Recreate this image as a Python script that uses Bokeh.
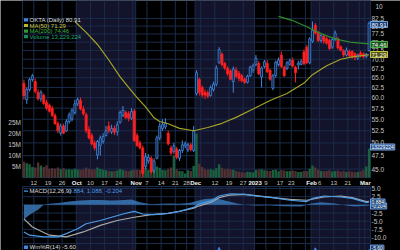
import math
from bokeh.plotting import figure
from bokeh.models import Range1d, LinearScale
from bokeh.core.properties import value
from bokeh.embed import file_html
from bokeh.resources import INLINE

# ---------------- data (OKTA daily, 2022-09-06 .. 2023-03-02) ----------------
opens = [63.5, 59.5, 62.0, 64.5, 64.0, 61.3, 59.7, 60.5, 58.8, 58.2, 57.5, 55.8, 54.0, 52.0, 53.5, 52.5, 54.5, 55.0, 56.5,
         58.5, 59.3, 57.3, 56.0, 52.8, 51.5, 50.0, 47.6, 49.5, 50.3, 51.5, 53.5, 52.3, 53.0, 52.3, 54.3, 55.8, 56.5, 56.3, 55.2, 56.8,
         51.5, 50.0, 49.0, 45.5, 46.5, 47.0, 44.8, 47.0, 51.0, 53.0, 53.3, 52.0, 49.0, 48.3, 48.8, 47.0, 48.5, 49.4, 48.6, 49.6, 48.5,
         61.0, 64.5, 62.5, 61.3, 61.2, 60.5, 62.0, 63.3, 69.0, 71.5, 68.8, 67.5, 66.8, 64.0, 67.0, 66.2, 65.5, 64.6, 63.8, 65.5, 67.0,
         68.5, 68.8, 65.2, 68.0, 68.8, 67.0, 62.3, 65.6, 68.5, 71.2, 67.8, 67.5, 68.6, 69.7, 67.8, 68.4, 68.6, 72.1, 73.5, 69.0,
         75.3, 80.2, 78.0, 75.5, 76.8, 76.0, 75.5, 73.5, 75.8, 76.0, 73.6, 72.4, 71.2, 72.2, 72.2, 71.6, 70.3, 71.8, 71.5, 70.8, 72.5]
highs = [64.5, 62.5, 65.0, 66.0, 64.8, 62.0, 61.8, 61.0, 59.5, 58.6, 58.0, 56.3, 54.5, 54.0, 54.0, 55.0, 56.5, 57.5, 59.5,
         60.0, 60.0, 58.0, 56.5, 53.5, 52.0, 50.5, 50.6, 51.5, 52.0, 53.5, 54.5, 53.8, 53.6, 54.5, 57.0, 58.0, 57.0, 56.8, 57.5, 57.3,
         52.0, 50.5, 49.5, 48.0, 47.8, 47.4, 47.0, 51.5, 54.3, 55.0, 55.2, 52.5, 49.5, 50.0, 49.2, 48.8, 50.5, 50.3, 50.0, 50.0, 53.5,
         67.0, 65.0, 63.0, 62.0, 61.8, 63.0, 64.0, 68.3, 73.5, 72.0, 69.3, 68.0, 67.2, 68.0, 67.8, 66.8, 66.0, 65.0, 65.8, 68.2, 68.8,
         71.2, 69.5, 68.0, 69.8, 69.8, 67.3, 66.0, 69.6, 70.5, 72.2, 68.2, 69.5, 70.2, 70.5, 68.2, 69.6, 70.0, 72.8, 74.2, 76.5,
         81.5, 81.0, 78.5, 77.5, 77.5, 76.6, 76.0, 76.4, 78.6, 76.5, 74.0, 72.9, 73.4, 72.8, 72.6, 72.0, 71.6, 72.4, 72.0, 71.8, 81.5]
lows = [59.5, 58.5, 61.5, 64.0, 61.0, 59.3, 59.0, 58.3, 57.0, 56.5, 55.5, 53.8, 52.0, 51.5, 51.8, 52.2, 54.0, 54.5, 56.0,
        58.0, 57.0, 55.8, 52.0, 50.7, 49.5, 48.5, 46.8, 47.5, 49.8, 51.3, 52.0, 51.8, 51.6, 51.5, 54.0, 55.5, 55.0, 54.5, 54.8, 50.2,
        49.2, 48.7, 43.6, 45.0, 46.0, 44.2, 44.3, 46.8, 50.5, 52.5, 52.8, 49.5, 47.6, 47.8, 46.8, 46.5, 48.0, 48.9, 48.2, 48.3, 48.2,
        60.5, 60.5, 60.0, 59.6, 59.8, 60.2, 61.5, 62.8, 68.8, 68.0, 67.0, 65.5, 64.3, 61.2, 64.8, 64.0, 63.8, 63.4, 63.5, 65.2, 66.3,
        68.0, 65.7, 62.5, 67.5, 66.2, 64.2, 61.8, 65.0, 68.0, 67.6, 65.2, 67.0, 68.2, 67.7, 63.8, 67.2, 68.3, 68.3, 68.6, 68.6,
        74.8, 77.3, 75.0, 74.8, 74.5, 74.2, 72.6, 73.0, 75.3, 72.8, 72.2, 70.6, 70.8, 70.5, 70.2, 69.7, 69.8, 70.5, 70.2, 70.3, 72.2]
closes = [60.5, 62.0, 64.5, 65.5, 61.5, 59.7, 61.3, 58.6, 57.5, 56.8, 55.8, 54.0, 52.5, 53.5, 52.0, 54.5, 56.0, 57.0, 58.5,
          59.5, 57.3, 56.2, 52.5, 51.0, 49.8, 49.0, 50.3, 51.0, 51.3, 52.5, 52.5, 53.0, 52.2, 53.8, 56.5, 57.0, 55.4, 55.2, 56.7, 50.5,
          49.5, 49.0, 44.2, 47.3, 47.2, 44.5, 46.5, 51.0, 53.5, 53.8, 54.2, 49.8, 48.0, 49.4, 47.2, 48.5, 49.6, 49.8, 49.6, 48.7, 52.5,
          66.3, 61.3, 60.6, 60.6, 60.3, 62.5, 63.3, 67.6, 72.8, 68.5, 67.6, 66.0, 64.6, 67.3, 65.4, 64.8, 64.2, 63.8, 65.4, 67.8, 68.2,
          70.3, 66.0, 67.6, 69.3, 66.6, 64.6, 65.5, 69.2, 69.8, 68.0, 65.5, 69.0, 69.6, 68.1, 66.3, 68.9, 69.4, 68.8, 69.0, 76.0,
          78.6, 77.8, 75.5, 77.0, 75.3, 74.7, 73.1, 75.8, 77.8, 73.3, 72.6, 71.2, 72.6, 71.0, 70.6, 70.6, 71.2, 71.0, 70.8, 71.4, 80.91]
volume_m = [7.2, 6.5, 6.0, 4.8, 4.5, 6.8, 5.5, 4.8, 5.6, 4.0, 4.2, 4.0, 4.5, 3.8, 4.2, 3.6, 3.8, 3.5, 4.0,
            3.6, 3.5, 3.6, 4.6, 4.0, 3.5, 3.8, 4.5, 3.9, 3.5, 3.3, 3.0, 2.8, 3.0, 3.2, 3.9, 3.4, 3.2, 3.0, 3.3, 3.6,
            3.5, 3.4, 5.5, 4.2, 3.4, 4.6, 3.6, 5.0, 4.4, 3.4, 3.3, 3.9, 4.5, 10.0, 3.8, 3.0, 2.8, 1.8, 3.3, 3.0, 5.2,
            20.0, 6.2, 4.8, 3.8, 3.5, 3.8, 3.4, 4.2, 6.0, 4.4, 3.6, 4.0, 3.6, 3.5, 3.0, 2.6, 2.4, 2.2, 2.6, 2.5, 2.3,
            3.4, 3.6, 3.8, 3.3, 3.2, 3.0, 3.4, 3.6, 2.8, 3.4, 3.2, 2.8, 3.0, 3.2, 2.9, 2.5, 2.6, 2.9, 3.0, 4.0,
            5.4, 4.5, 3.6, 3.0, 2.8, 3.0, 3.3, 2.7, 3.0, 3.2, 2.6, 2.9, 2.5, 2.8, 2.6, 2.4, 2.5, 2.8, 3.5, 5.0, 13.23]

# moving averages (bar index, value)
ma50_k = [18, 22, 26, 30, 34, 37, 40, 43, 46, 48, 51, 55, 60, 65, 70, 75, 81, 87, 93, 99, 102, 107, 112, 116, 122]
ma50_v = [81.5, 78.0, 74.3, 69.8, 65.2, 62.5, 60.0, 57.8, 55.3, 54.5, 54.0, 53.0, 52.5, 53.2, 54.1, 55.4, 57.3, 59.3,
          61.0, 63.6, 65.8, 68.2, 70.0, 70.7, 71.29]
ma200_k = [90, 95, 100, 104, 108, 112, 116, 122]
ma200_v = [83.2, 81.8, 79.8, 78.0, 76.6, 75.6, 74.9, 74.46]

# MACD(12,26,9)
macd_k = [0, 2, 7, 12, 15, 19, 22, 27, 31, 35, 39, 42, 46, 51, 55, 60, 62, 66, 69, 73, 78, 82, 88, 94, 100, 102, 106, 112, 116, 121, 122]
macd_v = [-8.3, -9.3, -9.8, -9.8, -8.8, -7.3, -5.8, -4.8, -3.8, -2.8, -2.0, -2.8, -3.0, -2.6, -2.0, -0.8, 0.3, 1.2, 2.7,
          3.4, 3.2, 2.7, 2.2, 1.4, 1.0, 2.0, 2.7, 2.4, 2.0, 0.7, 0.884]
sig_k = [0, 3, 9, 15, 21, 27, 33, 39, 45, 51, 56, 60, 62, 66, 69, 73, 78, 82, 88, 94, 100, 106, 112, 116, 121, 122]
sig_v = [-4.3, -6.8, -9.3, -9.8, -8.3, -6.3, -4.8, -3.8, -3.0, -2.6, -1.8, -1.0, -0.3, 0.7, 2.2, 3.0, 3.2, 2.8, 2.2, 1.7,
         1.4, 2.4, 2.7, 2.2, 1.0, 1.088]
hist_k = [0, 2, 5, 7, 9, 13, 16, 20, 24, 27, 31, 34, 38, 41, 45, 48, 52, 55, 59, 61, 64, 68, 71, 75, 78, 82, 87, 92, 98,
          101, 105, 110, 114, 117, 122]
hist_v = [-4.5, -3.0, -1.5, 0.0, 0.3, 0.6, 1.0, 1.3, 1.5, 1.5, 1.3, 1.4, 1.6, 0.8, 0.2, 0.3, 0.4, 0.3, 0.6, 1.2, 1.8, 2.0,
          1.3, 0.5, 0.0, -0.2, -0.1, -0.4, -0.5, 0.3, 0.8, 0.4, -0.2, -0.5, -0.204]

# Williams %R(14) (only its tops show)
wr_k = [0, 66, 68, 69, 71, 100, 102, 103, 105, 119, 121, 122]
wr_v = [-50, -40, -15, -2, -30, -40, -15, -3, -30, -60, -40, -5.6]

# calendar ticks (first trading day of week / month)
tick_idx = [4, 9, 14, 19, 24, 29, 34, 39, 40, 44, 49, 54, 58, 61, 63, 68, 73, 78, 82, 86, 91, 95, 100, 102, 105, 110, 115, 119, 121]
tick_lbl = ["12", "19", "26", "Oct", "10", "17", "24", "", "Nov", "7", "14", "21", "28", "Dec", "", "12", "19", "27",
            "2023", "9", "17", "23", "", "Feb", "6", "13", "21", "", "Mar"]
bold_lbl = {"Oct", "Nov", "Dec", "2023", "Feb", "Mar"}
band_start = [19, 61, 102]
band_end = [40, 82, 123]

price_ticks = [45.0, 47.5, 50.0, 52.5, 55.0, 57.5, 60.0, 62.5, 65.0, 67.5, 70.0, 72.5, 75.0, 77.5, 80.0, 82.5]
vol_ticks = [5, 10, 15, 20, 25]
macd_ticks = [5.0, 2.5, 0.0, -2.5, -5.0, -7.5, -10.0]

# ---------------- layout (pixel geometry of the panels) ----------------
N = len(closes)
W, H = 400, 250
FL, FRX = 22, 370          # plot area left / right edge
P_TOP, P_BOT = 0, 177      # price panel
M_TOP, M_BOT = 186, 243    # MACD panel
R_TOP, R_BOT = 243, 250    # Williams %R panel

BAND = "#13132b"
GRID = "#1a2c4a"
BLUE = "#4287dc"
BLUEFILL = "#0f1e3c"
RED = "#ff2020"
FONT = "Liberation Sans"
TXT = "#c4c4c4"

PMAX, PPX = 88.68, 248.5   # price at top edge, px per ln-unit

def xk(px):
    return -0.5 + (px - FL) * N / (FRX - FL)

def yp(py):
    return PMAX * math.exp(-py / PPX)

def yv(py):
    return (P_BOT - py) * 5.0 / 11.0

def ym(py):
    return 5.0 - (py - 188) / 3.267

def yw(py):
    return -4.0 - (py - 248) * 2.0

p = figure(frame_width=W, frame_height=H, x_range=Range1d(xk(0), xk(W)), y_range=Range1d(yp(H), yp(0)),
           y_axis_type="log", x_axis_location=None, y_axis_location=None, output_backend="svg",
           toolbar_location=None, min_border=0, background_fill_color="black", border_fill_color="black",
           outline_line_color=None)
p.grid.visible = False
p.extra_y_ranges = {"vol": Range1d(yv(H), yv(0)), "macd": Range1d(ym(H), ym(0)), "wr": Range1d(yw(H), yw(0))}
p.extra_y_scales = {"vol": LinearScale(), "macd": LinearScale(), "wr": LinearScale()}

panels = [("default", yp, P_TOP, P_BOT), ("macd", ym, M_TOP, M_BOT), ("wr", yw, R_TOP, R_BOT)]
x_lo, x_hi = -0.5, N - 0.5
for rn, f, t, b in panels:
    for s, e in zip(band_start, band_end):
        p.quad(left=s - 0.5, right=e - 0.5, bottom=f(b), top=f(t), fill_color=BAND, line_color=None,
               y_range_name=rn, level="image")
    p.segment(x0=[k - 0.5 for k in tick_idx], x1=[k - 0.5 for k in tick_idx], y0=f(b), y1=f(t),
              line_color=GRID, line_width=1, y_range_name=rn, level="underlay")

# horizontal grids
p.segment(x0=x_lo, x1=x_hi, y0=price_ticks, y1=price_ticks, line_color=GRID, level="underlay")
p.segment(x0=x_lo, x1=x_hi, y0=macd_ticks, y1=macd_ticks, line_color=GRID, level="underlay", y_range_name="macd")
for rn, f, t, b in panels:
    p.quad(left=x_lo, right=x_hi, bottom=f(b), top=f(t), fill_color=None, line_color=GRID,
           y_range_name=rn, level="underlay")

def texts(xs, ys, tx, color, size="6.5px", align="left", rn="default", bold=False):
    p.text(x=xs, y=ys, text=tx, y_range_name=rn, text_font=value(FONT), text_font_size=value(size),
           text_color=color, text_align=align, text_baseline="middle",
           text_font_style="bold" if bold else "normal")

# ---------------- price + volume ----------------
up = [c >= o for o, c in zip(opens, closes)]
xs = list(range(N))
p.vbar(x=xs, width=0.85, top=volume_m, bottom=0, y_range_name="vol",
       fill_color=["#1c6a43" if u else "#5a3434" for u in up], line_color=None, fill_alpha=0.9)
p.segment(x0=xs, y0=highs, x1=xs, y1=lows, line_color=[BLUE if u else RED for u in up], line_width=1)
p.vbar(x=xs, width=0.72, top=[max(o, c) for o, c in zip(opens, closes)],
       bottom=[min(o, c) for o, c in zip(opens, closes)],
       fill_color=[BLUEFILL if u else RED for u in up], line_color=[BLUE if u else RED for u in up], line_width=0.8)
p.line(ma50_k, ma50_v, line_color="#a3a326", line_width=1.2)
p.line(ma200_k, ma200_v, line_color="#2e8b2e", line_width=1.2)

# axes texts
texts([xk(371)] * len(price_ticks), price_ticks, ["%.1f" % t for t in price_ticks], TXT)
texts([xk(375)], [yp(6)], ["10"], TXT)
texts([xk(20.5)] * len(vol_ticks), vol_ticks, ["%dM" % t for t in vol_ticks], TXT, align="right", rn="vol")
num = [(k, l) for k, l in zip(tick_idx, tick_lbl) if l and l not in bold_lbl]
mon = [(k, l) for k, l in zip(tick_idx, tick_lbl) if l in bold_lbl]
texts([k - 0.5 for k, _ in num], [yp(182.5)] * len(num), [l for _, l in num], TXT, size="6px", align="center")
texts([k - 0.3 for k, _ in mon], [yp(182.5)] * len(mon), [l for _, l in mon], "#f2f2f2", size="6px",
      align="center", bold=True)

# legend
leg = [("OKTA (Daily) 80.91", "#dcdcdc", BLUE, 19.3),
       ("MA(50) 71.29", "#c8c83c", "#b8b830", 25.0),
       ("MA(200) 74.46", "#3cb043", "#2e9b2e", 30.7),
       ("Volume 13,229,224", "#22a872", "#1c8a5a", 36.2)]
for t, tc, ic, py in leg:
    p.quad(left=xk(23.5), right=xk(27.5), top=yp(py - 1.6), bottom=yp(py + 1.6), fill_color=ic, line_color=None)
    texts([xk(29)], [yp(py)], [t], tc, size="6px")

def box(y, t, fill, border, rn="default", size="6px"):
    p.text(x=[xk(370)], y=[y], text=[t], y_range_name=rn, text_font=value(FONT), text_font_size=value(size),
           text_color="#ffffff", text_align="left", text_baseline="middle",
           background_fill_color=fill, border_line_color=border, padding=1)

box(yp(24), "80.91", "#173a70", "#6fa0e0")
box(yp(44), "74.46", "#1d551d", "#48b048")
box(yp(54), "71.29", "#585812", "#c8c83c")
box(yv(146.5), "13229224", "#2a5590", "#7aa6dc", rn="vol", size="5px")

# ---------------- MACD ----------------
p.varea(x=hist_k, y1=[0.0] * len(hist_k), y2=hist_v, fill_color="#3a78b8", fill_alpha=0.85, y_range_name="macd")
p.line(sig_k, sig_v, line_color="#a8a8a8", line_width=1.2, y_range_name="macd")
p.line(macd_k, macd_v, line_color="#4a9ce8", line_width=1.2, y_range_name="macd")
texts([xk(371)] * len(macd_ticks), macd_ticks, ["%.1f" % t for t in macd_ticks], TXT, rn="macd")
p.quad(left=xk(23.5), right=xk(27.5), top=ym(190), bottom=ym(191.2), fill_color="#4a9ce8", line_color=None,
       y_range_name="macd")
texts([xk(29)], [ym(190.5)], ["MACD(12,26,9)"], "#dcdcdc", size="6px", rn="macd")
texts([xk(68)], [ym(190.5)], ["0.884, 1.088, -0.204"], "#4a9ce8", size="6px", rn="macd")
box(ym(205.5), "-0.204", "#1e4270", "#6fa0e0", rn="macd", size="5px")
box(ym(201.5), "0.884", "#1e4270", "#6fa0e0", rn="macd", size="5px")

# ---------------- Williams %R ----------------
p.line(wr_k, wr_v, line_color=BLUE, line_width=1.2, y_range_name="wr")
p.quad(left=xk(23.5), right=xk(27.5), top=yw(245), bottom=yw(248.5), fill_color=BLUE, line_color=None,
       y_range_name="wr")
texts([xk(29)], [yw(246.8)], ["Wm%R(14) -5.60"], "#dcdcdc", size="6px", rn="wr")
box(yw(247.6), "-5.60", "#1e4270", "#6fa0e0", rn="wr", size="5px")

open("out.html", "w").write(file_html(p, INLINE))
